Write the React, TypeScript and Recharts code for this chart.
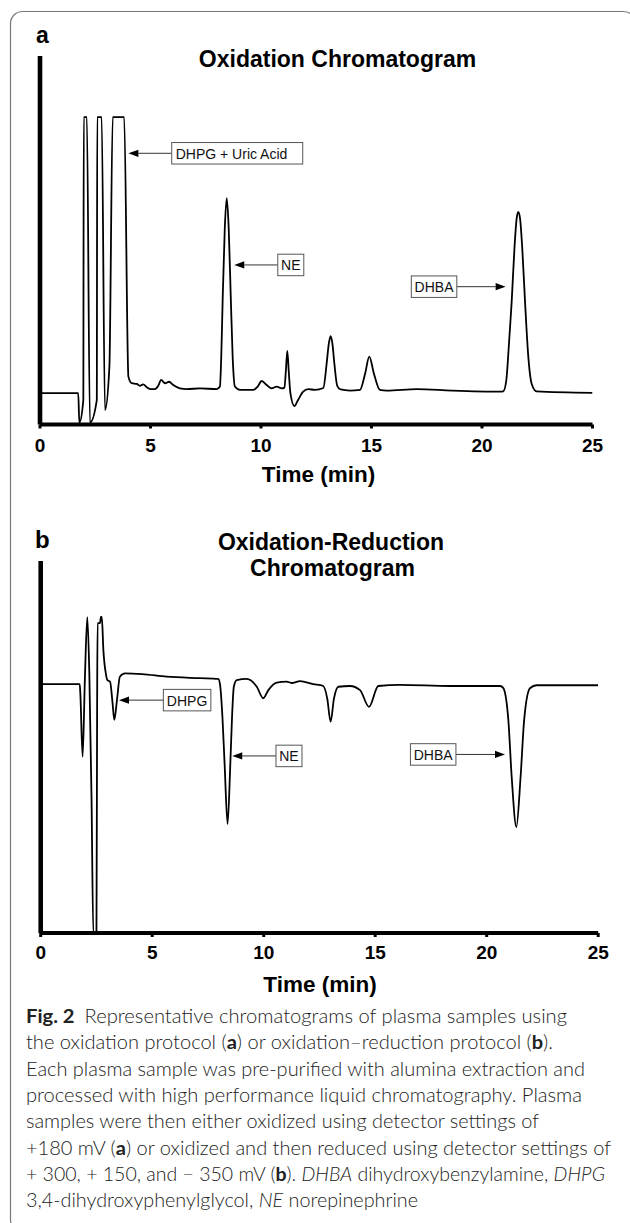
import React from 'react';
import { LineChart, Line, XAxis, YAxis, ReferenceLine } from 'recharts';

// ---------- data: panel a (oxidation) ----------
const timeA = [
  0, 1.73, 1.78, 1.96, 1.98, 2.12, 2.26, 2.57, 2.59, 2.79, 2.94, 3.14, 3.29, 3.81, 4.0, 4.15,
  4.38, 4.52, 4.67, 4.83, 4.98, 5.2, 5.35, 5.48, 5.66, 5.84, 6.03, 6.33, 6.64, 7.24, 8.0, 8.14,
  8.2, 8.27, 8.36, 8.45, 8.54, 8.63, 8.72, 8.82, 9.05, 9.65, 9.85, 10.03, 10.26, 10.48, 10.71,
  10.94, 11.06, 11.13, 11.19, 11.26, 11.33, 11.51, 11.67, 11.91, 12.14, 12.44, 12.82, 12.97,
  13.07, 13.15, 13.23, 13.32, 13.45, 13.6, 14.03, 14.48, 14.71, 14.9, 15.11, 15.38, 15.69,
  17.05, 18.63, 20.81, 20.96, 21.1, 21.2, 21.34, 21.47, 21.57, 21.64, 21.72, 21.82, 21.95,
  22.1, 22.25, 22.47, 25,
];
const signalA = [
  8.5, 8.5, 0.5, 6.6, 83.4, 83.4, 0.5, 6.6, 83.4, 83.4, 3.9, 15.7, 83.4, 83.4, 13.0, 11.2,
  11.0, 10.5, 10.9, 10.1, 9.6, 9.6, 10.5, 12.1, 11.2, 11.6, 10.7, 9.8, 9.6, 9.8, 9.6, 10.3,
  18, 35, 53, 61.4, 53, 35, 18, 10.3, 9.4, 9.4, 10.3, 11.8, 10.7, 9.8, 10.3,
  9.8, 10.0, 15, 20.0, 14, 8.5, 5.0, 6.6, 8.9, 9.6, 9.4, 9.9, 16.5,
  22, 24.0, 22, 16.5, 10.5, 9.5, 9.2, 9.4, 13.8, 18.4, 13.8, 9.4, 9.2,
  9.6, 9.2, 8.9, 9.0, 12, 20, 33, 48, 56, 57.7, 56, 48, 33,
  18, 11, 9.0, 8.6,
];

// ---------- data: panel b (oxidation-reduction) ----------
const timeB = [
  0, 1.75, 1.78, 1.88, 1.98, 2.09, 2.18, 2.28, 2.36, 2.5, 2.53, 2.55, 2.66, 2.7, 2.74, 2.81,
  2.93, 2.99, 3.11, 3.22, 3.3, 3.42, 3.55, 3.78, 4.55, 5.65, 7.14, 7.96, 8.04, 8.15, 8.25,
  8.38, 8.5, 8.58, 8.66, 8.79, 9.24, 9.69, 9.98, 10.21, 10.58, 11.03, 11.25, 11.63, 12.22,
  12.67, 12.85, 13.0, 13.15, 13.35, 13.87, 14.32, 14.72, 15.14, 16.11, 18.35, 20.6, 20.74,
  20.97, 21.12, 21.33, 21.52, 21.68, 21.94, 22.24, 25,
];
const signalB = [
  66.9, 66.9, 64, 47.4, 68, 84.9, 70, 36, 0, 0, 60, 83.3, 83.3, 85.0, 85.0, 76.1,
  69.4, 68.0, 67.6, 62, 57.3, 62.6, 68.9, 69.8, 69.6, 68.9, 68.5, 68.3, 66.9, 58, 45,
  29.3, 45, 58, 66.2, 68.0, 68.3, 66.2, 63.1, 65.3, 67.3, 67.6, 67.2, 67.7, 66.9,
  66.4, 63, 56.8, 63, 66.2, 66.4, 65.3, 60.8, 66.4, 66.7, 66.4, 66.4, 65.9,
  57.3, 42.0, 28.5, 42.0, 57.3, 65.8, 66.6, 66.6,
];

const xTicks = [0, 5, 10, 15, 20, 25];

// ---------- annotations (data coordinates) ----------
const labelsA = ['DHPG + Uric Acid', 'NE', 'DHBA'];
const tipXA = [4.0, 8.79, 21.07];
const tipYA = [73.6, 43.3, 37.4];
const tailXA = [5.96, 10.76, 18.86];

const labelsB = ['DHPG', 'NE', 'DHBA'];
const tipXB = [3.51, 8.59, 20.82];
const tipYB = [62.6, 47.6, 48.0];
const tailXB = [5.5, 10.55, 18.62];

// ---------- styles ----------
const BOX_H = 21.5;
const boxStyle: Record<string, { w: number; align: 'start' | 'middle' }> = {
  'DHPG + Uric Acid': { w: 131, align: 'start' },
  NE: { w: 26, align: 'middle' },
  DHBA: { w: 45.5, align: 'middle' },
  DHPG: { w: 47.5, align: 'middle' },
};
const ARIAL = "'Liberation Sans', Arial, Helvetica, sans-serif";

const makeArrowShape = (text: string) => (props: any) => {
  const { x1, y1, x2, y2 } = props;
  const dir = x2 > x1 ? 1 : -1;
  const headLen = 10;
  const headHalf = 3.6;
  const st = boxStyle[text];
  const bx = dir > 0 ? x1 - st.w : x1;
  const by = y1 - BOX_H / 2;
  return (
    <g>
      <line x1={x1} y1={y1} x2={x2 - dir * headLen} y2={y2} stroke="#333" strokeWidth={1} />
      <polygon
        points={`${x2},${y2} ${x2 - dir * headLen},${y2 - headHalf} ${x2 - dir * headLen},${y2 + headHalf}`}
        fill="#000"
      />
      <rect x={bx} y={by} width={st.w} height={BOX_H} fill="#fff" stroke="#555" strokeWidth={1} />
      <text
        x={st.align === 'start' ? bx + 4 : bx + st.w / 2}
        y={y1 + 0.5}
        dominantBaseline="central"
        textAnchor={st.align}
        fontFamily={ARIAL}
        fontSize={14}
        fill="#111"
      >
        {text}
      </text>
    </g>
  );
};

const dataA = timeA.map((t, i) => ({ t, v: signalA[i] }));
const dataB = timeB.map((t, i) => ({ t, v: signalB[i] }));

const tickStyle = { fill: '#000', fontSize: 19, fontWeight: 700, fontFamily: ARIAL };

function Panel({ data, margin, tickMargin, labels, tipX, tipY, tailX }: any) {
  return (
    <LineChart width={630} height={500} data={data} margin={margin}>
      <XAxis
        dataKey="t"
        type="number"
        domain={[0, 25]}
        ticks={xTicks}
        interval={0}
        allowDataOverflow
        height={30}
        axisLine={{ stroke: '#000', strokeWidth: 4 }}
        tickLine={{ stroke: '#000', strokeWidth: 3 }}
        tickSize={4}
        tickMargin={tickMargin}
        tick={tickStyle}
      />
      <YAxis type="number" domain={[0, 100]} hide allowDataOverflow />
      <ReferenceLine x={0} stroke="#000" strokeWidth={4.6} />
      <Line
        dataKey="v"
        type="monotone"
        stroke="#000"
        strokeWidth={1.8}
        dot={false}
        activeDot={false}
        isAnimationActive={false}
      />
      {labels.map((lab: string, i: number) => (
        <ReferenceLine
          key={lab + i}
          segment={[
            { x: tailX[i], y: tipY[i] },
            { x: tipX[i], y: tipY[i] },
          ]}
          shape={makeArrowShape(lab)}
        />
      ))}
    </LineChart>
  );
}

const captionLines: { parts: { t: string; b?: boolean; i?: boolean }[]; len: number }[] = [
  { parts: [{ t: 'Fig. 2', b: true }, { t: '\u2002Representative chromatograms of plasma samples using' }], len: 541 },
  { parts: [{ t: 'the oxidation protocol (' }, { t: 'a', b: true }, { t: ') or oxidation\u2013reduction protocol (' }, { t: 'b', b: true }, { t: ').' }], len: 527 },
  { parts: [{ t: 'Each plasma sample was pre-purified with alumina extraction and' }], len: 559 },
  { parts: [{ t: 'processed with high performance liquid chromatography. Plasma' }], len: 556 },
  { parts: [{ t: 'samples were then either oxidized using detector settings of' }], len: 513 },
  { parts: [{ t: '+180 mV (' }, { t: 'a', b: true }, { t: ') or oxidized and then reduced using detector settings of' }], len: 585 },
  { parts: [{ t: '+ 300, + 150, and \u2212 350 mV (' }, { t: 'b', b: true }, { t: '). ' }, { t: 'DHBA', i: true }, { t: ' dihydroxybenzylamine, ' }, { t: 'DHPG', i: true }], len: 579 },
  { parts: [{ t: '3,4-dihydroxyphenylglycol, ' }, { t: 'NE', i: true }, { t: ' norepinephrine' }], len: 392 },
];

export default function App() {
  return (
    <div style={{ position: 'absolute', left: 0, top: 0, width: 630, height: 1223, overflow: 'hidden', background: '#fff' }}>
      <div style={{ position: 'absolute', left: 0, top: 0 }}>
        <Panel
          data={dataA}
          margin={{ top: 56, right: 37.5, bottom: 45.5, left: 40 }}
          tickMargin={10}
          labels={labelsA}
          tipX={tipXA}
          tipY={tipYA}
          tailX={tailXA}
        />
      </div>
      <div style={{ position: 'absolute', left: 0, top: 500 }}>
        <Panel
          data={dataB}
          margin={{ top: 61, right: 31.8, bottom: 37, left: 40.7 }}
          tickMargin={9}
          labels={labelsB}
          tipX={tipXB}
          tipY={tipYB}
          tailX={tailXB}
        />
      </div>
      <svg width={630} height={1223} style={{ position: 'absolute', left: 0, top: 0, pointerEvents: 'none' }}>
        <rect x={10.5} y={11.5} width={625} height={1220} rx={12} fill="none" stroke="#777" strokeWidth={1.2} />
        <g fontFamily={ARIAL} fontWeight={700} fill="#000">
          <text x={36} y={43} fontSize={23}>a</text>
          <text x={337.5} y={66.5} fontSize={23} textAnchor="middle">Oxidation Chromatogram</text>
          <text x={318.5} y={481.5} fontSize={22.5} textAnchor="middle">Time (min)</text>
          <text x={35} y={548} fontSize={24}>b</text>
          <text x={331} y={550} fontSize={23} textAnchor="middle">Oxidation-Reduction</text>
          <text x={332.5} y={576} fontSize={23} textAnchor="middle">Chromatogram</text>
          <text x={320} y={991.5} fontSize={22.5} textAnchor="middle">Time (min)</text>
        </g>
        <g fontFamily="Lato, 'Noto Sans', sans-serif" fontSize={19} fill="#222">
          {captionLines.map((ln, i) => (
            <text key={i} x={26} y={1023 + i * 26.3} textLength={ln.len} lengthAdjust="spacingAndGlyphs">
              {ln.parts.map((p, j) => (
                <tspan key={j} fontWeight={p.b ? 700 : 300} fontStyle={p.i ? 'italic' : 'normal'}>
                  {p.t}
                </tspan>
              ))}
            </text>
          ))}
        </g>
      </svg>
    </div>
  );
}
